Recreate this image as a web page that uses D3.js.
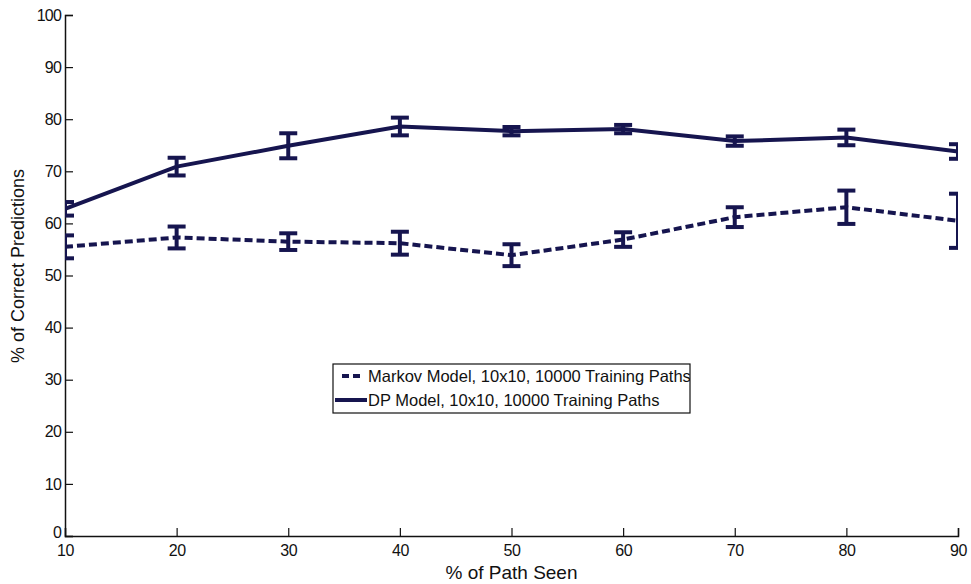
<!DOCTYPE html>
<html>
<head>
<meta charset="utf-8">
<script src="https://cdn.jsdelivr.net/npm/d3@7"></script>
<style>
  body { margin: 0; background: #fff; }
  svg { font-family: "Liberation Sans", Arial, sans-serif; }
</style>
</head>
<body>
<div id="chart"></div>
<script>
// valores
var pathSeen = [10, 20, 30, 40, 50, 60, 70, 80, 90];
var markov = [55.5, 57.3, 56.5, 56.2, 53.9, 56.9, 61.2, 63.1, 60.5];
var markovErr = [2.2, 2.1, 1.6, 2.2, 2.1, 1.4, 1.9, 3.2, 5.2];
var dp = [62.8, 70.9, 74.9, 78.6, 77.7, 78.1, 75.8, 76.5, 73.8];
var dpErr = [1.3, 1.7, 2.4, 1.7, 0.8, 0.8, 0.9, 1.5, 1.4];
var xTicks = [10, 20, 30, 40, 50, 60, 70, 80, 90];
var yTicks = [0, 10, 20, 30, 40, 50, 60, 70, 80, 90, 100];

const cor = '#16154f';
const W = 971, H = 584;
const margin = { left: 65, right: 13, top: 15, bottom: 48 };

var svg = d3.select('#chart').append('svg')
    .attr('width', W)
    .attr('height', H);

var x = d3.scaleLinear().domain([10, 90]).range([margin.left, W - margin.right]);
var y = d3.scaleLinear().domain([0, 100]).range([H - margin.bottom, margin.top]);

// eixos com ticks para dentro
svg.append('g')
    .attr('transform', 'translate(0,' + y(0) + ')')
    .call(d3.axisBottom(x).tickValues(xTicks).tickSize(-8).tickPadding(14))
    .call(g => g.select('.domain').attr('stroke', '#111').attr('stroke-width', 1.5))
    .call(g => g.selectAll('.tick line').attr('stroke', '#111').attr('stroke-width', 1.2))
    .call(g => g.selectAll('text').attr('font-size', 16).attr('fill', '#111').attr('dy', '0.35em').attr('letter-spacing', -0.5));

svg.append('g')
    .attr('transform', 'translate(' + x(10) + ',0)')
    .call(d3.axisLeft(y).tickValues(yTicks).tickSize(-8).tickPadding(4))
    .call(g => g.select('.domain').attr('stroke', '#111').attr('stroke-width', 1.5))
    .call(g => g.selectAll('.tick line').attr('stroke', '#111').attr('stroke-width', 1.2))
    .call(g => g.selectAll('text').attr('font-size', 16).attr('fill', '#111').attr('letter-spacing', -0.8))
    .call(g => g.selectAll('.tick').filter(d => d === 0).select('text').attr('dy', '0.1em'));

svg.append('text')
    .attr('x', (x(10) + x(90)) / 2)
    .attr('y', H - 5)
    .attr('text-anchor', 'middle')
    .attr('font-size', 19)
    .attr('fill', '#111')
    .text('% of Path Seen');

svg.append('text')
    .attr('transform', 'translate(24,266) rotate(-90)')
    .attr('text-anchor', 'middle')
    .attr('font-size', 18)
    .attr('fill', '#111')
    .text('% of Correct Predictions');

// recorte da área do gráfico
svg.append('clipPath').attr('id', 'area')
    .append('rect')
    .attr('x', x(10)).attr('y', y(100))
    .attr('width', x(90) - x(10)).attr('height', y(0) - y(100));

var plot = svg.append('g').attr('clip-path', 'url(#area)');

function desenhaSerie(vals, errs, dash) {
    var dados = pathSeen.map((p, i) => ({ p: p, v: vals[i], e: errs[i] }));
    var linha = d3.line().x(d => x(d.p)).y(d => y(d.v));

    plot.append('path')
        .datum(dados)
        .attr('fill', 'none')
        .attr('stroke', cor)
        .attr('stroke-width', 4)
        .attr('stroke-dasharray', dash)
        .attr('d', linha);

    var barras = plot.append('g').selectAll('g')
        .data(dados)
        .join('g');
    barras.append('line')
        .attr('x1', d => x(d.p)).attr('x2', d => x(d.p))
        .attr('y1', d => y(d.v - d.e)).attr('y2', d => y(d.v + d.e))
        .attr('stroke', cor).attr('stroke-width', 4);
    barras.append('line')
        .attr('x1', d => x(d.p) - 9).attr('x2', d => x(d.p) + 9)
        .attr('y1', d => y(d.v + d.e)).attr('y2', d => y(d.v + d.e))
        .attr('stroke', cor).attr('stroke-width', 4);
    barras.append('line')
        .attr('x1', d => x(d.p) - 9).attr('x2', d => x(d.p) + 9)
        .attr('y1', d => y(d.v - d.e)).attr('y2', d => y(d.v - d.e))
        .attr('stroke', cor).attr('stroke-width', 4);
}

desenhaSerie(markov, markovErr, '8,4');
desenhaSerie(dp, dpErr, null);

// legenda
var leg = svg.append('g').attr('transform', 'translate(333,364)');
leg.append('clipPath').attr('id', 'legclip')
    .append('rect').attr('width', 357).attr('height', 49);
leg.append('rect')
    .attr('width', 357).attr('height', 49)
    .attr('fill', '#fff').attr('stroke', '#111').attr('stroke-width', 1.2);
var itens = [
    { nome: 'Markov Model, 10x10, 10000 Training Paths', dash: '7,4', x1: 9, x2: 29 },
    { nome: 'DP Model, 10x10, 10000 Training Paths', dash: null, x1: 2, x2: 34 }
];
var item = leg.append('g').attr('clip-path', 'url(#legclip)')
    .selectAll('g').data(itens).join('g')
    .attr('transform', (d, i) => 'translate(0,' + (12 + i * 24) + ')');
item.append('line')
    .attr('x1', d => d.x1).attr('x2', d => d.x2)
    .attr('stroke', cor).attr('stroke-width', 4)
    .attr('stroke-dasharray', d => d.dash);
item.append('text')
    .attr('x', 35).attr('dy', '0.35em')
    .attr('font-size', 16.5).attr('fill', '#111')
    .text(d => d.nome);
</script>
</body>
</html>
